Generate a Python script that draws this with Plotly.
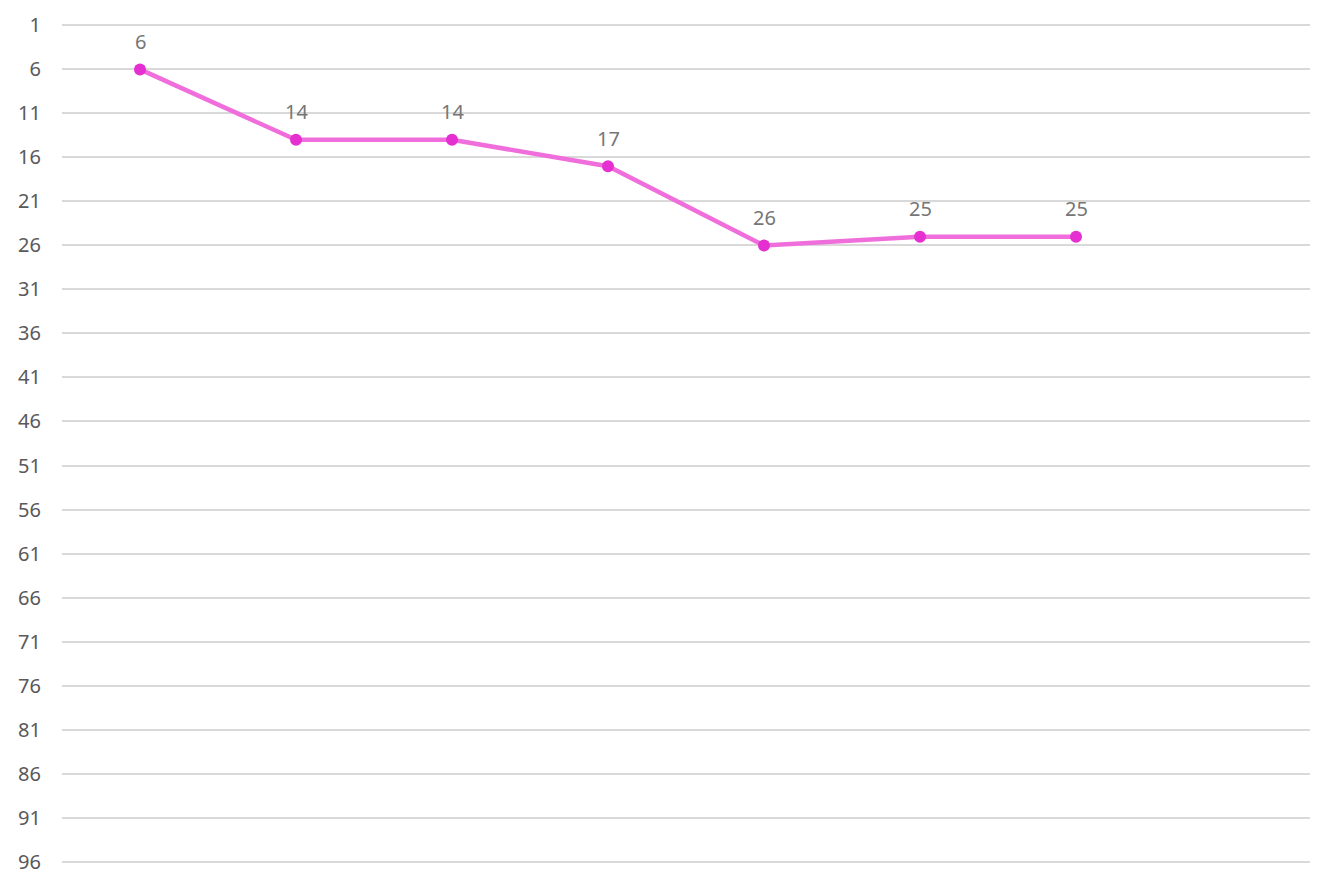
import plotly.graph_objects as go

# ---------------------------------------------
# Data
# ---------------------------------------------
categories = [1, 2, 3, 4, 5, 6, 7, 8]
values = [6, 14, 14, 17, 26, 25, 25, None]
y_ticks = list(range(1, 97, 5))

FONT = "Noto Sans, Open Sans, sans-serif"

fig = go.Figure()
fig.add_trace(
    go.Scatter(
        x=categories,
        y=values,
        mode="lines+markers",
        line=dict(color="#F06EDC", width=4.5),
        marker=dict(color="#E62FD0", size=12),
        cliponaxis=False,
        hoverinfo="x+y",
    )
)

# data labels above each point
for c, v in zip(categories, values):
    if v is None:
        continue
    fig.add_annotation(
        x=c, y=v, text=str(v), showarrow=False,
        yshift=28, font=dict(family=FONT, size=20, color="#767676"),
    )

# page body adds an 8px offset, margins account for it
fig.update_layout(
    width=1334,
    height=889,
    paper_bgcolor="white",
    plot_bgcolor="white",
    showlegend=False,
    margin=dict(l=54, r=32, t=13, b=31, autoexpand=False),
    font=dict(family=FONT, size=20, color="#595959"),
)

fig.update_xaxes(
    range=[0.5, 8.5],
    showticklabels=False,
    showgrid=False,
    zeroline=False,
    showline=False,
    ticks="",
    automargin=False,
)

fig.update_yaxes(
    range=[96.5, 0.5],
    tickvals=y_ticks,
    ticktext=[str(t) for t in y_ticks],
    showgrid=True,
    gridcolor="#D9D9D9",
    gridwidth=1.5,
    zeroline=False,
    showline=False,
    ticks="",
    ticklabelstandoff=20,
    automargin=False,
    tickfont=dict(family=FONT, size=20, color="#595959"),
)

fig.write_html("out.html")
